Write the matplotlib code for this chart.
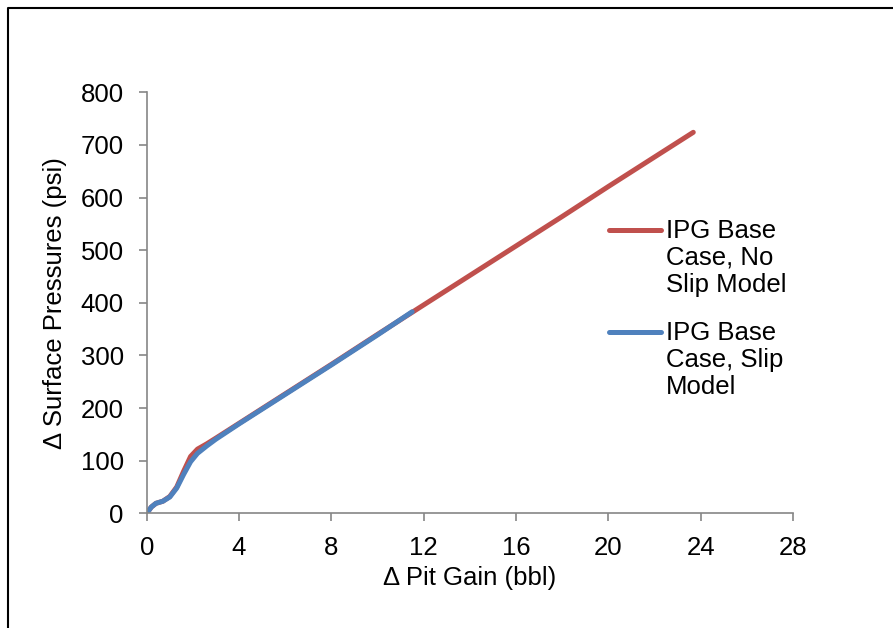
import matplotlib
matplotlib.use("Agg")
import matplotlib.pyplot as plt
from matplotlib.lines import Line2D

plt.rcParams['font.family'] = ['Liberation Sans', 'DejaVu Sans']

# Pit gain (bbl) vs surface pressure change (psi)
no_slip_gain = [0, 0.2, 0.4, 0.7, 1.0, 1.3, 1.6, 1.9, 2.2, 2.6, 3.0, 4.0, 6.0,
                8.0, 10.0, 12.0, 14.0, 16.0, 18.0, 20.0, 22.0, 23.68]
no_slip_psi = [0, 12, 19, 23, 32, 50, 80, 108, 122, 132, 143, 171, 227,
               283, 340, 396, 452, 508, 564, 621, 677, 724]

slip_gain = [0, 0.2, 0.4, 0.7, 1.0, 1.3, 1.6, 1.9, 2.2, 2.6, 3.0, 4.0, 6.0,
             8.0, 10.0, 11.5]
slip_psi = [0, 12, 19, 23, 31, 48, 74, 98, 114, 128, 141, 170, 226,
            282, 339, 383]

series_labels = ["IPG Base\nCase, No\nSlip Model", "IPG Base\nCase, Slip\nModel"]
x_ticks = [0, 4, 8, 12, 16, 20, 24, 28]
y_ticks = [0, 100, 200, 300, 400, 500, 600, 700, 800]

RED = "#C0504D"
BLUE = "#4F81BD"
GRAY = "#868686"
FS = 18.5
LW = 3.6

fig = plt.figure(figsize=(8.93, 6.28), dpi=100)
ax = fig.add_axes([0.1643, 0.1826, 0.888 - 0.1643, 0.853 - 0.1826])

ax.plot(no_slip_gain, no_slip_psi, color=RED, lw=LW, solid_capstyle='round',
        solid_joinstyle='round')
ax.plot(slip_gain, slip_psi, color=BLUE, lw=LW, solid_capstyle='round',
        solid_joinstyle='round')

ax.set_xlim(0, 28)
ax.set_ylim(0, 800)
ax.set_xticks(x_ticks)
ax.set_yticks(y_ticks)
ax.tick_params(labelsize=FS, color=GRAY, length=6, width=1.2, direction='out',
               pad=10.5)
for side in ('top', 'right'):
    ax.spines[side].set_visible(False)
for side in ('left', 'bottom'):
    ax.spines[side].set_color(GRAY)
    ax.spines[side].set_linewidth(1.2)
ax.set_xlabel("\u0394 Pit Gain (bbl)", fontsize=FS, labelpad=4.5)
ax.set_ylabel("\u0394 Surface Pressures (psi)", fontsize=FS, labelpad=10)

# Legend drawn beside the plot, handle level with the first text line
for (color, label, y) in [(RED, series_labels[0], 0.634), (BLUE, series_labels[1], 0.471)]:
    fig.add_artist(Line2D([0.682, 0.740], [y, y], color=color, lw=LW,
                          solid_capstyle='round', transform=fig.transFigure))
    fig.text(0.746, y + 0.018, label, fontsize=FS, va='top', ha='left',
             linespacing=1.17)

# Outer frame
fig.add_artist(Line2D([0.0085, 0.0085, 1.01], [-0.01, 0.9865, 0.9865],
                      color='black', lw=1.5, transform=fig.transFigure))

fig.savefig("out.png", dpi=100)
